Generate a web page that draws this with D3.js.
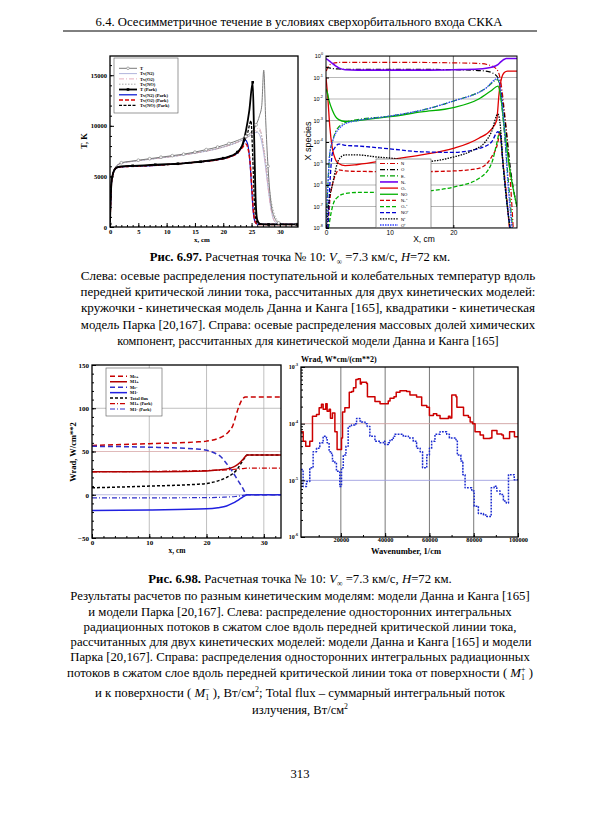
<!DOCTYPE html>
<html><head><meta charset="utf-8">
<script src="https://cdn.jsdelivr.net/npm/d3@7/dist/d3.min.js"></script>
<style>html,body{margin:0;padding:0;background:#fff;} svg{display:block}</style>
</head><body>
<svg id="page" width="600" height="815"></svg>
<script>
// ================= DATA =================
// --- Fig 6.97 left: temperatures along stagnation line (x, cm ; T, K)
const tDK_x   = [0,0.1,0.3,0.6,1,1.5,2,3,5,7,9,11,13,15,17,19,21,22.5,24,25,25.8,26.4,26.8,27.15,27.5,27.9,28.4,29,29.8,31,33];
const tDK_y   = [300,2500,4700,5500,5950,6200,6350,6450,6600,6750,6900,7050,7200,7400,7650,7900,8250,8550,8950,9400,10100,11000,12000,15500,10500,6000,2500,1000,400,260,250];
const tvN2DK_x = [0,0.3,1,2,5,10,15,20,23,24.5,25.5,26,26.5,27,27.5,28,28.5,29,30,33];
const tvN2DK_y = [300,4500,5900,6300,6550,6900,7300,7900,8500,8950,9300,9350,9000,7800,5800,3500,1600,600,260,250];
const tvO2DK_x = [0,0.3,1,2,5,10,15,20,23,24.5,25.5,26.3,26.8,27.3,27.8,28.3,28.8,29.5,30.5,33];
const tvO2DK_y = [300,4500,5900,6300,6550,6900,7300,7900,8500,8950,9400,9800,9000,7000,4500,2200,900,350,250,250];
const tvNODK_x = [0,0.3,1,2,5,10,15,20,23,24.5,25.5,26.5,27,27.5,28,28.5,29,29.5,30.5,33];
const tvNODK_y = [300,4500,5900,6300,6550,6900,7300,7900,8500,8950,9300,9500,8300,6500,4300,2500,1300,700,300,250];
const tP_x    = [0,0.1,0.3,0.6,1,1.5,2,4,6,8,10,12,14,16,18,20,21.5,22.5,23.3,24,24.6,25.2,25.45,25.7,26,26.5,28,33];
const tP_y    = [300,2500,4600,5400,5800,5950,6000,6050,6100,6150,6200,6250,6350,6450,6600,6800,7050,7400,8000,9500,11500,14300,9000,3000,700,300,250,250];
const tvN2P_x = [0,0.3,1,2,4,8,12,16,19,21,22.5,23.3,23.9,24.3,24.7,25,25.3,25.7,26.2,33];
const tvN2P_y = [300,4600,5800,5950,6000,6100,6250,6450,6650,6900,7300,7900,8600,8200,6500,4000,1500,400,250,250];
const tvO2P_x = [0,0.3,1,2,4,8,12,16,19,21,22.5,23.3,24,24.4,24.8,25.1,25.4,25.8,26.3,33];
const tvO2P_y = [300,4600,5800,5950,6000,6100,6250,6450,6650,6900,7300,7800,8200,7700,6000,3500,1200,350,250,250];
const tvNOP_x = [0,0.3,1,2,4,8,12,16,19,21,22.5,23.5,24.3,24.9,25.2,25.5,25.8,26.2,33];
const tvNOP_y = [300,4600,5800,5950,6000,6100,6250,6450,6650,6950,7400,8200,9300,10500,7000,2500,700,250,250];
const tlLabels = ['T','Tv(N2)','Tv(O2)','Tv(NO)','T (Park)','Tv(N2) (Park)','Tv(O2) (Park)','Tv(NO) (Park)'];
const tlXTicks = [0,5,10,15,20,25,30];
const tlYTicks = [0,5000,10000,15000];

// --- Fig 6.97 right: species mass fractions (x, cm ; X)
const spN_x  = [0.05,0.3,1,2,5,10,15,20,24,26,27,27.5,28,28.5,29,29.4];
const spN_y  = [0.2,0.3,0.45,0.5,0.5,0.5,0.5,0.48,0.45,0.35,0.2,0.05,3e-3,1e-4,1e-6,1e-8];
const spO_x  = [0,0.5,1,2,3,5,10,15,20,23,25,26,27,27.5,28,28.5,29,29.5,30];
const spO_y  = [0.3,0.28,0.26,0.25,0.24,0.24,0.24,0.24,0.23,0.22,0.2,0.17,0.1,0.02,2e-3,1e-4,5e-6,5e-7,1e-7];
const spE_x  = [0,0.3,0.6,1,1.5,2,3,5,10,15,20,25,27,27.5,28,28.7,29.3];
const spE_y  = [1e-8,1e-6,3e-5,1e-4,3e-4,5e-4,8e-4,1.1e-3,1.6e-3,3e-3,8e-3,3e-2,8e-2,1e-2,3e-4,1e-6,1e-8];
const spN2_x = [0,0.5,1,1.5,2,3,5,10,15,20,24,26,27,27.5,28,28.3,30];
const spN2_y = [0.75,0.6,0.45,0.35,0.28,0.23,0.22,0.22,0.22,0.23,0.25,0.3,0.4,0.55,0.7,0.76,0.76];
const spO2_x = [0,0.3,0.6,1,1.5,2,3,5,10,15,20,24,26,26.8,27.2,27.6,28,28.5,30];
const spO2_y = [0.1,1e-2,5e-4,5e-5,1.5e-5,1e-5,8e-6,9e-6,1.5e-5,2.5e-5,5e-5,1.5e-4,4e-4,1e-3,2e-2,0.1,0.17,0.2,0.2];
const spNO_x = [0,0.2,0.5,1,1.5,2,3,5,10,15,20,24,26,27,27.5,28,29,30];
const spNO_y = [3e-2,2e-2,8e-3,3e-3,1.5e-3,1.1e-3,9e-4,1e-3,1.5e-3,2.5e-3,4e-3,1e-2,2.5e-2,4e-2,1e-2,5e-4,3e-6,1e-7];
const spN2p_x = [0.3,0.6,1,1.5,2,3,5,10,15,20,24,26,27,27.3,27.7,28.2,28.8];
const spN2p_y = [1e-8,2e-7,1e-6,3e-6,5e-6,4.5e-6,4.3e-6,4.2e-6,4.2e-6,4.5e-6,6e-6,2e-5,1e-4,3e-4,2e-5,1e-6,1e-8];
const spO2p_x = [0.4,0.8,1.2,2,3,5,10,15,20,24,26,26.8,27.3,27.8,28.3,28.9];
const spO2p_y = [1e-8,5e-8,1.5e-7,3e-7,4e-7,4.5e-7,4.5e-7,5e-7,8e-7,2e-6,1e-5,8e-5,3e-4,1e-5,3e-7,1e-8];
const spNOp_x = [0.3,0.6,1,1.5,2,3,5,10,15,20,24,26,27,27.4,27.8,28.3,28.9];
const spNOp_y = [1e-8,1e-6,3e-5,6e-5,8e-5,7e-5,6.5e-5,4.8e-5,3.5e-5,3.3e-5,5e-5,1e-4,3e-4,2e-4,1e-5,3e-7,1e-8];
const spNp_x = [0.1,0.5,1,1.5,2,3,5,8,10,15,20,23,25,26,27,27.4,27.8,28.3,28.9];
const spNp_y = [1e-8,2e-7,1e-6,5e-6,1.5e-5,2.5e-5,2.5e-5,2e-5,1.8e-5,1.2e-5,2e-5,4e-5,1e-4,3e-4,2e-3,5e-4,1e-5,3e-7,1e-8];
const spOp_x = [0,0.3,0.6,1,1.5,2,3,5,10,15,20,25,27,27.5,28,28.6,29.2];
const spOp_y = [1e-8,1e-6,3e-5,1e-4,2.5e-4,4e-4,7e-4,1e-3,1.6e-3,3e-3,8e-3,3e-2,9e-2,2e-2,5e-4,1e-6,1e-8];
const trLabels = ['N','O','E-','N₂','O₂','NO','N₂⁺','O₂⁺','NO⁺','N⁺','O⁺'];
const trXTicks = [0,10,20];
const trYTicks = [1e-8,1e-7,1e-6,1e-5,1e-4,1e-3,1e-2,1e-1,1];
const trYExp   = ['-8','-7','-6','-5','-4','-3','-2','-1','0'];

// --- Fig 6.98 left: radiative fluxes (x, cm ; W/cm^2)
const meP_x = [0,10,18,20,22,23,24,24.6,25.2,25.7,26.2,26.8,33];
const meP_y = [57,59,61,62,65,68,74,80,93,103,110,113,113];
const m1P_x = [0,10,20,22,24,25,25.8,26.5,27.1,33];
const m1P_y = [26.5,26.7,27.5,28.5,30.5,33,37,42,46,46];
const meM_x = [0,10,18,20,21.5,22.5,23.5,24.5,25.3,26.2,27.1,33];
const meM_y = [56,55,53,51.5,48,44,36,27,18.5,9,0,0];
const m1M_x = [0,10,20,22,23.5,24.5,25.3,26,26.6,27.1,33];
const m1M_y = [-18.3,-17.5,-16.3,-15,-13,-10,-7,-4,-1.5,0,0];
const tot_x = [0,10,18,20,22,23.5,24.5,25.3,26,26.6,27.1,33];
const tot_y = [8,10,12,13,16,20,24,29,36,42,46,46];
const m1PP_x = [0,10,20,24,26,27,33];
const m1PP_y = [26.5,27,28,29,30,30.7,30.7];
const m1MP_x = [0,10,20,23,25,26,27,33];
const m1MP_y = [-3.7,-3.6,-3.3,-2.8,-2,-1.2,0,0];
const blLabels = ['Me+','M1+','Me-','M1-','Total flux','M1+ (Park)','M1- (Park)'];
const blXTicks = [0,10,20,30];
const blYTicks = [-50,0,50,100,150];

// --- Fig 6.98 right: spectral fluxes (wavenumber, 1/cm ; W*cm/cm^2)
const wnRed  = [2000,3000,4150,5970,7180,9000,10200,11250,12000,13200,13800,14700,15300,16200,17300,18300,19600,20300,20750,21800,23800,24900,25700,26800,27800,28800,29300,31600,32000,34600,35400,37700,40700,41400,42200,44000,45000,46700,49700,51200,53500,54200,56000,56500,58800,60000,61800,63300,64800,67800,68600,69300,70100,72000,72400,74600,75400,77600,78400,79500,80600,82900,84400,87400,88200,89700,90500,92700,93400,95800,96200,98000,98400,100000];
const wrRed  = [7.2e-5,4.9e-5,4.0e-5,4.9e-5,1.35e-4,1.45e-4,1.9e-4,2.2e-4,1.8e-4,2.25e-4,1.65e-4,1.8e-4,1.25e-4,1.55e-4,7.2e-5,3.5e-5,3.5e-5,5.6e-5,1.6e-4,1.9e-4,3.6e-4,3.7e-4,4.3e-4,6.0e-4,6.2e-4,5.0e-4,5.4e-4,5.1e-4,3.0e-4,3.0e-4,2.45e-4,2.25e-4,2.25e-4,2.5e-4,2.8e-4,3.0e-4,3.6e-4,3.8e-4,3.7e-4,3.2e-4,3.2e-4,2.95e-4,2.95e-4,2.1e-4,1.95e-4,1.4e-4,1.5e-4,1.4e-4,1.23e-4,1.23e-4,1.35e-4,1.26e-4,3.2e-4,3.0e-4,1.95e-4,1.95e-4,1.4e-4,1.3e-4,1.07e-4,1.0e-4,7.2e-5,6.3e-5,5.5e-5,5.6e-5,7.6e-5,7.6e-5,6.6e-5,6.3e-5,5.5e-5,5.5e-5,7.2e-5,7.2e-5,5.9e-5,5.9e-5];
const wnBlue = [2000,2950,4460,5970,7480,9000,10500,12000,13500,13800,14700,15800,16200,17300,18000,19500,20300,21100,22300,23300,24800,26300,27100,28600,29300,30900,31900,33100,35400,37700,39200,39900,41400,42200,43700,44400,46700,48200,50500,52700,54200,55800,56900,58800,60000,61000,62500,64800,66300,67800,69000,70800,72000,72600,74200,75100,76100,79100,80200,82100,84400,85900,87400,87900,89200,90400,91900,93400,94700,95700,97700,98300,100000];
const wrBlue = [1.55e-5,7.8e-6,9.5e-6,1.66e-5,3.2e-5,3.7e-5,4.6e-5,6.0e-5,5.6e-5,4.6e-5,3.2e-5,2.8e-5,2.2e-5,2.05e-5,1.45e-5,7.8e-6,1.66e-5,2.8e-5,4.0e-5,8.9e-5,9.5e-5,1.0e-4,1.23e-4,1.12e-4,1.07e-4,1.0e-4,8.9e-5,6.0e-5,4.9e-5,4.6e-5,4.9e-5,4.3e-5,4.6e-5,5.2e-5,6.0e-5,6.5e-5,6.5e-5,6.0e-5,5.6e-5,4.9e-5,3.7e-5,3.2e-5,1.66e-5,2.8e-5,3.7e-5,4.9e-5,6.5e-5,7.2e-5,7.2e-5,6.5e-5,5.6e-5,5.6e-5,5.2e-5,2.8e-5,2.2e-5,1.26e-5,7.4e-6,6.5e-6,3.5e-6,2.6e-6,2.45e-6,2.3e-6,2.3e-6,7.4e-6,7.9e-6,6.5e-6,5.6e-6,4.3e-6,4.0e-6,1.26e-5,1.26e-5,1.02e-5,9.8e-6];
const brXTicks = [20000,40000,60000,80000,100000];
const brYTicks = [1e-6,1e-5,1e-4,1e-3];
const brYExp   = ['-6','-5','-4','-3'];

// ================= DRAWING =================
const svg = d3.select('#page');
const SERIF = '"Liberation Serif","Times New Roman",serif';
const SANS  = '"Liberation Sans",Arial,sans-serif';

function clipG(id, X, Y){
  const [x0,x1]=X.range(), [y1,y0]=Y.range();
  svg.append('clipPath').attr('id',id).append('rect').attr('x',x0).attr('y',y0).attr('width',x1-x0).attr('height',y1-y0);
  return svg.append('g').attr('clip-path',`url(#${id})`);
}
function frame(X,Y,w){
  const [x0,x1]=X.range(), [y1,y0]=Y.range();
  svg.append('rect').attr('x',x0).attr('y',y0).attr('width',x1-x0).attr('height',y1-y0)
    .attr('fill','none').attr('stroke','#000').attr('stroke-width',w||1.2);
}
function drawLine(g,xs,ys,X,Y,st,curve){
  const pts = xs.map((v,i)=>[v,ys[i]]);
  return g.append('path').datum(pts)
    .attr('d', d3.line().x(d=>X(d[0])).y(d=>Y(d[1])).curve(curve||d3.curveMonotoneX))
    .attr('fill','none').attr('stroke',st.c).attr('stroke-width',st.w||1)
    .attr('stroke-dasharray',st.d||null).attr('stroke-linejoin','round');
}
function styleAxis(g,font,fs,weight){
  g.select('.domain').remove();
  g.attr('font-family',font).attr('font-size',fs).attr('font-weight',weight||'normal');
  g.selectAll('text').attr('fill','#000');
  g.selectAll('line').attr('stroke','#000');
}
function xAxis(X,Y,major,minor,fmt,font,fs,weight,len,pad){
  const y0=Y.range()[0];
  if(minor){ const gm=svg.append('g').attr('transform',`translate(0,${y0})`)
      .call(d3.axisBottom(X).tickValues(minor).tickSize(-len/2).tickFormat('')); styleAxis(gm,font,fs,weight); }
  const g=svg.append('g').attr('transform',`translate(0,${y0})`)
    .call(d3.axisBottom(X).tickValues(major).tickSize(-len).tickPadding(pad).tickFormat(fmt));
  styleAxis(g,font,fs,weight); return g;
}
function yAxis(X,Y,major,minor,fmt,font,fs,weight,len,pad){
  const x0=X.range()[0];
  if(minor){ const gm=svg.append('g').attr('transform',`translate(${x0},0)`)
      .call(d3.axisLeft(Y).tickValues(minor).tickSize(-len/2).tickFormat('')); styleAxis(gm,font,fs,weight); }
  const g=svg.append('g').attr('transform',`translate(${x0},0)`)
    .call(d3.axisLeft(Y).tickValues(major).tickSize(-len).tickPadding(pad).tickFormat(fmt));
  styleAxis(g,font,fs,weight); return g;
}
function legend(box, items, labels, font, fs, weight, sampleLen){
  svg.append('rect').attr('x',box.x).attr('y',box.y).attr('width',box.w).attr('height',box.h)
    .attr('fill','#fff').attr('stroke','#555').attr('stroke-width',0.6);
  items.forEach((st,i)=>{
    const y = box.y + box.top + i*box.step;
    const x1 = box.x+box.pad, x2 = x1+sampleLen;
    svg.append('line').attr('x1',x1).attr('x2',x2).attr('y1',y).attr('y2',y)
      .attr('stroke',st.c).attr('stroke-width',st.w||1).attr('stroke-dasharray',st.d||null);
    if(st.m==='circle') svg.append('circle').attr('cx',(x1+x2)/2).attr('cy',y).attr('r',1.3).attr('fill','#fff').attr('stroke',st.c).attr('stroke-width',0.6);
    if(st.m==='square') svg.append('rect').attr('x',(x1+x2)/2-1.3).attr('y',y-1.3).attr('width',2.6).attr('height',2.6).attr('fill','#000');
    svg.append('text').attr('x',x2+3).attr('y',y+1.7).text(labels[i])
      .attr('font-family',font).attr('font-size',fs).attr('font-weight',weight||'normal');
  });
}
function markers(g,xs,ys,X,Y,kind,color,gap){
  let last=-1e9; const pts=[];
  xs.forEach((v,i)=>{ if(v-last>=gap){ pts.push([v,ys[i]]); last=v; } });
  if(kind==='circle'){
    g.selectAll(null).data(pts).enter().append('circle').attr('cx',d=>X(d[0])).attr('cy',d=>Y(d[1]))
      .attr('r',1.4).attr('fill','#fff').attr('stroke',color).attr('stroke-width',0.6);
  } else {
    g.selectAll(null).data(pts).enter().append('rect').attr('x',d=>X(d[0])-1.3).attr('y',d=>Y(d[1])-1.3)
      .attr('width',2.6).attr('height',2.6).attr('fill',color);
  }
}

// ---------- Page header ----------
function fit(t,w){
  const bw=t.node().getBBox().width, fs=parseFloat(t.attr('font-size'));
  t.attr('font-size', Math.max(11, Math.min(16, fs*w/bw)));
}
function rich(cx,y,segs,width,fs){
  const t=svg.append('text').attr('x',cx).attr('y',y).attr('text-anchor','middle')
    .attr('font-family',SERIF).attr('font-size',fs||14).attr('fill','#000');
  segs.forEach(s=>{
    if(typeof s==='string'){ t.append('tspan').text(s); return; }
    const ts=t.append('tspan').text(s.t);
    if(s.b) ts.attr('font-weight','bold');
    if(s.i) ts.attr('font-style','italic');
    if(s.fs) ts.attr('font-size',s.fs);
    if(s.dy) ts.attr('dy',s.dy);
    if(s.dx) ts.attr('dx',s.dx);
  });
  if(width) fit(t,width);
  return t;
}
rich(299,26,['6.4. Осесимметричное течение в условиях сверхорбитального входа СККА'],408);
svg.append('line').attr('x1',63).attr('x2',537).attr('y1',31).attr('y2',31).attr('stroke','#000').attr('stroke-width',1);

// ---------- Panel 1: temperatures ----------
const X1 = d3.scaleLinear().domain([0,33.2]).range([110,298]);
const Y1 = d3.scaleLinear().domain([0,16900]).range([227,56]);
const g1 = clipG('c1',X1,Y1);
const st1 = [
  {c:'#7a7a7a',w:1,m:'circle'},
  {c:'#a8acd8',w:0.9},
  {c:'#e2a6b6',w:0.9,d:'5,2,1,2'},
  {c:'#a0a0a0',w:0.9,d:'1.5,1.5'},
  {c:'#000',w:1.8,m:'square'},
  {c:'#0010d0',w:1.2},
  {c:'#d80000',w:1.5,d:'4,2'},
  {c:'#000',w:1.3,d:'3,1.5'}
];
const ser1 = [[tDK_x,tDK_y],[tvN2DK_x,tvN2DK_y],[tvO2DK_x,tvO2DK_y],[tvNODK_x,tvNODK_y],[tP_x,tP_y],[tvN2P_x,tvN2P_y],[tvO2P_x,tvO2P_y],[tvNOP_x,tvNOP_y]];
[1,2,3,0,5,6,7,4].forEach(i=>drawLine(g1,ser1[i][0],ser1[i][1],X1,Y1,st1[i]));
markers(g1,tDK_x,tDK_y,X1,Y1,'circle','#7a7a7a',1.8);
markers(g1,tP_x,tP_y,X1,Y1,'square','#000',2.2);
frame(X1,Y1,1.3);
xAxis(X1,Y1,tlXTicks,d3.range(0,34,1),d3.format('d'),SERIF,6.5,'bold',4,2);
yAxis(X1,Y1,tlYTicks,d3.range(0,17000,1000),d3.format('d'),SERIF,6.5,'bold',4,3);
svg.append('text').attr('transform','translate(87,141) rotate(-90)').attr('text-anchor','middle')
  .attr('font-family',SERIF).attr('font-size',8.5).attr('font-weight','bold').text('T, K');
svg.append('text').attr('x',202).attr('y',242).attr('text-anchor','middle')
  .attr('font-family',SERIF).attr('font-size',7).attr('font-weight','bold').text('x, cm');
legend({x:114,y:58,w:64,h:55,top:10.3,step:5.3,pad:5},st1,tlLabels,SERIF,4.6,'bold',18);

// ---------- Panel 2: species ----------
const X2 = d3.scaleLinear().domain([0,30]).range([326,517]);
const Y2 = d3.scaleLog().domain([1e-8,1]).range([228,56]);
const g2 = clipG('c2',X2,Y2);
trYTicks.forEach(v=>g2.append('line').attr('x1',X2.range()[0]).attr('x2',X2.range()[1]).attr('y1',Y2(v)).attr('y2',Y2(v)).attr('stroke','#9a9a9a').attr('stroke-width',0.7));
trXTicks.slice(1).forEach(v=>g2.append('line').attr('x1',X2(v)).attr('x2',X2(v)).attr('y1',Y2.range()[1]).attr('y2',Y2.range()[0]).attr('stroke','#444').attr('stroke-width',0.8));
const st2 = [
  {c:'#d00000',w:1.2,d:'5,2,1,2'},
  {c:'#000',w:1.2,d:'5,2,1,2'},
  {c:'#00a000',w:1.2,d:'5,2,1,2'},
  {c:'#7000f0',w:1.6},
  {c:'#e00000',w:1.3},
  {c:'#00b000',w:1.3},
  {c:'#d00000',w:1.3,d:'4,2'},
  {c:'#00b000',w:1.3,d:'4,2'},
  {c:'#0000d0',w:1.3,d:'4,2'},
  {c:'#000',w:1.3,d:'1.5,1.2'},
  {c:'#3344ff',w:1.3,d:'1.5,1'}
];
const ser2 = [[spN_x,spN_y],[spO_x,spO_y],[spE_x,spE_y],[spN2_x,spN2_y],[spO2_x,spO2_y],[spNO_x,spNO_y],[spN2p_x,spN2p_y],[spO2p_x,spO2p_y],[spNOp_x,spNOp_y],[spNp_x,spNp_y],[spOp_x,spOp_y]];
ser2.forEach((s,i)=>drawLine(g2,s[0],s[1],X2,Y2,st2[i]));
frame(X2,Y2,1);
xAxis(X2,Y2,trXTicks,null,d3.format('d'),SANS,6.5,'normal',3,2);
yAxis(X2,Y2,trYTicks,null,'',SANS,6.5,'normal',3,3);
trYTicks.forEach((v,i)=>{
  const t=svg.append('text').attr('x',323).attr('y',Y2(v)+2.2).attr('text-anchor','end')
    .attr('font-family',SANS).attr('font-size',5.5);
  t.append('tspan').text('10');
  t.append('tspan').text(trYExp[i]).attr('font-size',3.8).attr('dy',-2.8);
});
svg.append('text').attr('transform','translate(311,141) rotate(-90)').attr('text-anchor','middle')
  .attr('font-family',SANS).attr('font-size',9).text('X species');
svg.append('text').attr('x',424).attr('y',242).attr('text-anchor','middle')
  .attr('font-family',SANS).attr('font-size',8.5).text('X, cm');
legend({x:376,y:159,w:55,h:68.5,top:4.5,step:6.15,pad:4},st2,trLabels,SANS,4.3,'normal',18);

// ---------- Panel 3: radiative fluxes ----------
const X3 = d3.scaleLinear().domain([0,33]).range([92,281]);
const Y3 = d3.scaleLinear().domain([-50,150]).range([538,365]);
const g3 = clipG('c3',X3,Y3);
blXTicks.slice(1).forEach(v=>g3.append('line').attr('x1',X3(v)).attr('x2',X3(v)).attr('y1',Y3.range()[1]).attr('y2',Y3.range()[0]).attr('stroke','#b0b0b0').attr('stroke-width',0.8));
[[0,'#a8a8d8'],[50,'#d8a8a8'],[100,'#b0b0b0']].forEach(([v,c])=>g3.append('line').attr('x1',X3.range()[0]).attr('x2',X3.range()[1]).attr('y1',Y3(v)).attr('y2',Y3(v)).attr('stroke',c).attr('stroke-width',0.8));
const st3 = [
  {c:'#c80000',w:1.5,d:'5,3'},
  {c:'#b00000',w:1.5},
  {c:'#3030c8',w:1.5,d:'5,3'},
  {c:'#2020e0',w:1.5},
  {c:'#000',w:1.5,d:'3,2'},
  {c:'#c80000',w:1.2,d:'5,2,1,2'},
  {c:'#3030c8',w:1.2,d:'5,2,1,2'}
];
const ser3 = [[meP_x,meP_y],[m1P_x,m1P_y],[meM_x,meM_y],[m1M_x,m1M_y],[tot_x,tot_y],[m1PP_x,m1PP_y],[m1MP_x,m1MP_y]];
[4,0,2,3,5,6,1].forEach(i=>drawLine(g3,ser3[i][0],ser3[i][1],X3,Y3,st3[i]));
frame(X3,Y3,1.3);
xAxis(X3,Y3,blXTicks,d3.range(0,34,2),d3.format('d'),SERIF,7,'bold',4,2);
yAxis(X3,Y3,blYTicks,d3.range(-50,151,10),d3.format('d'),SERIF,7,'bold',4,3);
svg.append('text').attr('transform','translate(76,452) rotate(-90)').attr('text-anchor','middle')
  .attr('font-family',SERIF).attr('font-size',8.5).attr('font-weight','bold').text('Wrad, W/cm**2');
svg.append('text').attr('x',177).attr('y',553).attr('text-anchor','middle')
  .attr('font-family',SERIF).attr('font-size',7.5).attr('font-weight','bold').text('x, cm');
legend({x:106,y:368,w:56,h:48,top:8.3,step:5.45,pad:4},st3,blLabels,SERIF,4.4,'bold',17);

// ---------- Panel 4: spectral fluxes ----------
const X4 = d3.scaleLinear().domain([2000,100000]).range([301,518]);
const Y4 = d3.scaleLog().domain([1e-6,1e-3]).range([537,367]);
const g4 = clipG('c4',X4,Y4);
brXTicks.slice(0,4).forEach(v=>g4.append('line').attr('x1',X4(v)).attr('x2',X4(v)).attr('y1',Y4.range()[1]).attr('y2',Y4.range()[0]).attr('stroke','#555').attr('stroke-width',0.8));
[[1e-4,'#d0a0a0'],[1e-5,'#a0a0e0']].forEach(([v,c])=>g4.append('line').attr('x1',X4.range()[0]).attr('x2',X4.range()[1]).attr('y1',Y4(v)).attr('y2',Y4(v)).attr('stroke',c).attr('stroke-width',0.9));
drawLine(g4,wnRed,wrRed,X4,Y4,{c:'#cc0000',w:1.5},d3.curveStepAfter);
drawLine(g4,wnBlue,wrBlue,X4,Y4,{c:'#1a2ad0',w:1.5,d:'1.8,1.2'},d3.curveStepAfter);
frame(X4,Y4,1.3);
const minor4=[]; [1e-6,1e-5,1e-4].forEach(b=>d3.range(2,10).forEach(k=>minor4.push(b*k)));
xAxis(X4,Y4,brXTicks,d3.range(10000,100001,10000),d3.format('d'),SERIF,6.3,'bold',4,1);
yAxis(X4,Y4,brYTicks,minor4,'',SERIF,7,'bold',4,3);
brYTicks.forEach((v,i)=>{
  const t=svg.append('text').attr('x',298).attr('y',Y4(v)+2.2).attr('text-anchor','end')
    .attr('font-family',SERIF).attr('font-size',6).attr('font-weight','bold');
  t.append('tspan').text('10');
  t.append('tspan').text(brYExp[i]).attr('font-size',4).attr('dy',-2.8);
});
svg.append('text').attr('x',301).attr('y',362).attr('font-family',SERIF).attr('font-size',8).attr('font-weight','bold').text('Wrad, W*cm/(cm**2)');
svg.append('text').attr('x',406).attr('y',554).attr('text-anchor','middle')
  .attr('font-family',SERIF).attr('font-size',8.5).attr('font-weight','bold').text('Wavenumber, 1/cm');

// ---------- Captions ----------
const Vinf = [{t:'V',i:true},{t:'∞',fs:'60%',dy:3},{t:' =7.3 км/с, ',dy:-3},{t:'H',i:true},'=72 км.'];
rich(300,261,[{t:'Рис. 6.97.',b:true},' Расчетная точка № 10:  '].concat(Vinf),301);
const cap1 = [
  ['Слева: осевые распределения поступательной и колебательных температур вдоль',455,280],
  ['передней критической линии тока, рассчитанных для двух кинетических моделей:',455,296],
  ['кружочки - кинетическая модель Данна и Канга [165], квадратики - кинетическая',455,312],
  ['модель Парка [20,167]. Справа: осевые распределения массовых долей химических',455,328.5],
  ['компонент, рассчитанных для кинетической модели Данна и Канга [165]',382,345]
];
cap1.forEach(([s,w,y])=>rich(308,y,[s],w));
rich(300,583,[{t:'Рис. 6.98.',b:true},' Расчетная точка № 10:  '].concat(Vinf),304);
const cap2 = [
  ['Результаты расчетов по разным кинетическим моделям: модели Данна и Канга [165]',460,600,300],
  ['и модели Парка [20,167]. Слева: распределение односторонних интегральных',424,615.5,300],
  ['радиационных потоков в сжатом слое вдоль передней критической линии тока,',433,631,300],
  ['рассчитанных для двух кинетических моделей: модели Данна и Канга [165] и модели',462,646,301],
  ['Парка [20,167]. Справа: распределения односторонних интегральных радиационных',460,661,300]
];
cap2.forEach(([s,w,y,cx])=>rich(cx,y,[s],w));
rich(300,677,['потоков в сжатом слое вдоль передней критической линии тока от поверхности ( ',
  {t:'M',i:true},{t:'1',fs:'62%',dy:3},{t:'+',fs:'62%',dx:-4,dy:-8},{t:' )',dy:5}],467);
rich(300,697,['и к поверхности ( ',{t:'M',i:true},{t:'1',fs:'62%',dy:3},{t:'−',fs:'62%',dx:-4,dy:-8},{t:' ), Вт/см',dy:5},
  {t:'2',fs:'62%',dy:-5},{t:'; Total flux – суммарный интегральный поток',dy:5}],411);
rich(300,714,['излучения, Вт/см',{t:'2',fs:'62%',dy:-5}],96);
rich(300,778,['313'],19);
</script>
</body></html>
